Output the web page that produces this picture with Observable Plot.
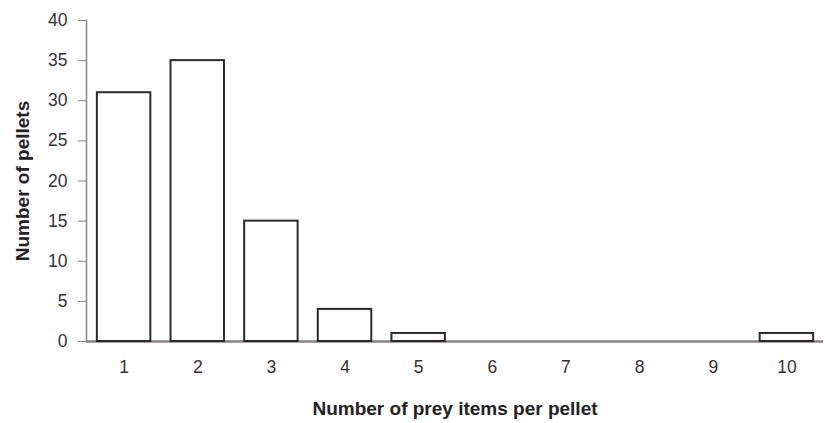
<!DOCTYPE html>
<html>
<head>
<meta charset="utf-8">
<script src="https://cdn.jsdelivr.net/npm/d3@7"></script>
<script src="https://cdn.jsdelivr.net/npm/@observablehq/plot@0.6"></script>
<style>
  html, body { margin: 0; padding: 0; background: #fff; }
  svg { display: block; }
</style>
</head>
<body>
<div id="chart"></div>
<script>
const categories = ["1", "2", "3", "4", "5", "6", "7", "8", "9", "10"];
const pellets = [31, 35, 15, 4, 1, 0, 0, 0, 0, 1];
const yTicks = [0, 5, 10, 15, 20, 25, 30, 35, 40];

const data = categories.map((c, i) => ({cat: c, value: pellets[i]}));

const chart = Plot.plot({
  width: 825,
  height: 423,
  marginLeft: 86,
  marginRight: 2,
  marginTop: 20,
  marginBottom: 82,
  style: {fontFamily: "Liberation Sans, Arial, sans-serif", fontSize: "17px", color: "#333", background: "#fff"},
  x: {domain: categories, range: [87, 823], round: false, paddingInner: 0.274, paddingOuter: 0.134},
  y: {domain: [0, 40]},
  marks: [
    Plot.frame({anchor: "left", stroke: "#8c8282", strokeWidth: 1.5}),
    Plot.ruleY([0], {stroke: "#8c8282", strokeWidth: 2.5}),
    Plot.barY(data, {x: "cat", y: "value", filter: d => d.value > 0, fill: "white", stroke: "#2b2b2b", strokeWidth: 2}),
    Plot.axisY({ticks: yTicks, tickSize: 8, tickPadding: 11, stroke: "#8c8282", fill: "#333", fontSize: 17.5, label: null}),
    Plot.axisY({ticks: [], tickSize: 0, fill: "#222", fontSize: 19, fontWeight: "bold",
      label: "Number of pellets", labelAnchor: "center", labelArrow: "none", labelOffset: 71}),
    Plot.axisX({tickSize: 0, tickPadding: 19, fill: "#333", fontSize: 17.5, label: null}),
    Plot.axisX({ticks: [], tickSize: 0, fill: "#222", fontSize: 19, fontWeight: "bold",
      label: "Number of prey items per pellet", labelAnchor: "center", labelArrow: "none", labelOffset: 73})
  ]
});
document.getElementById("chart").appendChild(chart);
</script>
</body>
</html>
